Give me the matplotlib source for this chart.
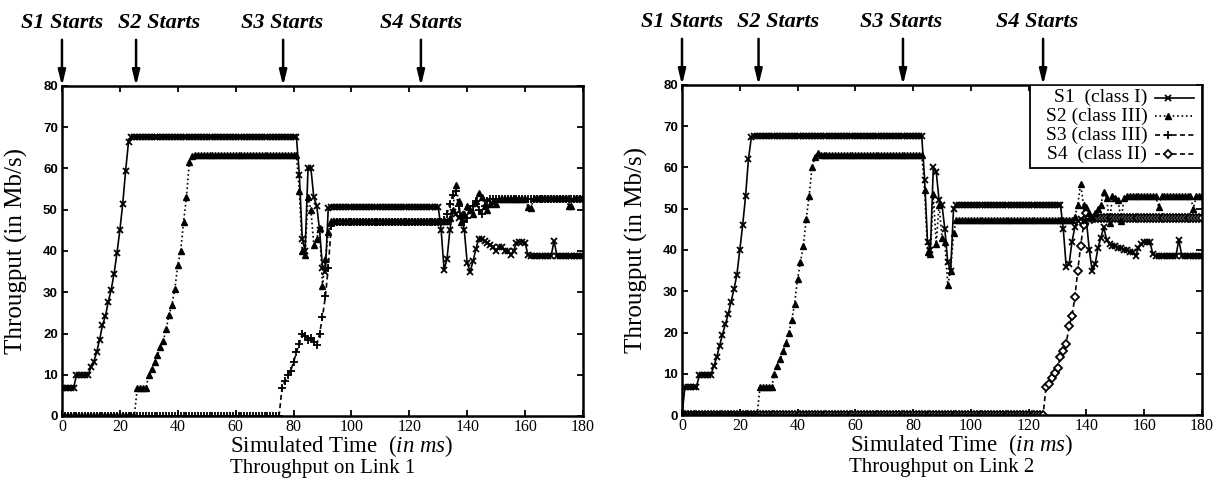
import matplotlib
matplotlib.use('Agg')
import matplotlib.pyplot as plt
from matplotlib.patches import Rectangle

plt.rcParams['font.family'] = 'Liberation Serif'
plt.rcParams['mathtext.fontset'] = 'custom'
plt.rcParams['mathtext.rm'] = 'Liberation Serif'
plt.rcParams['mathtext.it'] = 'Liberation Serif:italic'

# simulated time, one sample per ms
t = list(range(181))

# ---- Link 1 : S1, S2, S3 ----
s1_link1 = ([6.7] * 5 + [9.9] * 5
            + [11.8, 13.2, 15.5, 18.5, 22.0, 24.2, 27.7, 30.6, 34.5, 39.5, 45.0, 51.5, 59.5, 66.5]
            + [67.6] * 58
            + [58.5, 43.0, 40.0, 60.0, 60.0, 53.0, 51.0, 45.0, 36.0, 35.0, 50.5, 50.7]
            + [50.7] * 37
            + [45.0, 35.5, 38.0, 45.0, 49.5, 49.0, 48.0, 49.0, 45.0, 37.0, 35.0, 37.5, 40.5, 43.0, 43.0,
               42.5, 42.0, 41.5, 41.0, 40.0, 41.0, 41.0, 40.0, 40.0, 39.0, 40.0, 42.0, 42.2, 42.2, 42.0, 39.0]
            + [38.8] * 8 + [42.5] + [38.8] * 10)

s2_link1 = ([0.0] * 26 + [6.7] * 4
            + [9.9, 11.5, 13.0, 14.7, 16.8, 18.3, 21.0, 24.5, 27.0, 30.8, 36.5, 40.0, 47.0, 53.0, 61.5, 63.0]
            + [63.2] * 36
            + [54.5, 40.0, 39.0, 53.0, 50.0, 41.5, 43.0, 45.5, 31.5, 38.0, 44.5, 47.2]
            + [47.2] * 40
            + [48.0, 50.0, 56.0, 52.0, 47.0, 49.0, 51.0, 50.0, 49.0, 52.0, 54.0, 53.0, 51.0, 50.0, 51.5, 52.0, 51.5]
            + [52.5] * 10 + [50.7, 50.5] + [52.8] * 12 + [51.0, 51.0] + [52.8] * 4)

s3_link1 = ([0.0] * 76
            + [6.7, 8.5, 9.9, 11.0, 13.0, 15.5, 17.5, 20.0, 19.5, 18.5, 19.0, 18.0, 17.2, 20.0, 24.0, 29.0, 36.0, 46.0]
            + [47.0] * 38
            + [47.5, 49.0, 51.5, 53.5, 54.5, 51.0, 48.0, 47.0, 48.0, 50.0, 51.0, 52.0, 50.0, 49.0, 51.0, 52.0, 52.5, 52.5]
            + [52.6] * 31)

# ---- Link 2 : S1, S2, S4 ----
s1_link2 = ([0.0] + [6.7] * 5 + [9.8] * 5
            + [11.8, 14.0, 16.8, 19.5, 22.0, 24.5, 27.5, 30.5, 34.0, 40.0, 46.0, 53.0, 62.0, 67.3]
            + [67.6] * 59
            + [57.0, 42.0, 40.0, 60.0, 59.0, 52.0, 51.0, 45.0, 37.0, 35.0, 50.0, 51.0]
            + [51.0] * 36
            + [45.0, 36.0, 36.5, 42.0, 45.5, 47.0, 47.5, 47.0, 47.0, 40.0, 35.0, 36.5, 40.5, 43.0, 45.5, 42.5,
               41.5, 41.0, 41.0, 40.5, 40.5, 40.0, 40.0, 39.5, 39.5, 38.5, 40.5, 41.5, 42.0, 42.0, 42.0, 39.0]
            + [38.6] * 8 + [42.5] + [38.6] * 8)

s2_link2 = ([0.0] * 27 + [6.7] * 5
            + [10.0, 12.0, 13.5, 15.5, 17.5, 20.0, 23.0, 27.0, 33.0, 37.0, 41.0, 47.5, 53.0, 60.0, 62.5, 63.5]
            + [63.0] * 36
            + [54.5, 39.5, 39.0, 53.5, 41.5, 51.0, 43.0, 42.0, 31.5, 35.0, 44.0, 47.3]
            + [47.3] * 40
            + [48.0, 51.0, 56.0, 51.0, 50.5, 49.0, 48.0, 49.0, 50.0, 51.0, 54.0, 52.5, 46.5, 53.0, 52.5, 52.0, 47.0, 52.5]
            + [53.0] * 11 + [50.5] + [53.0] * 11 + [50.0] + [53.0] * 3)

s4_link2 = ([0.0] * 126
            + [6.7, 7.5, 9.0, 10.3, 11.5, 14.0, 15.5, 17.3, 21.5, 24.0, 28.5, 35.0, 41.0, 46.0, 49.0, 48.0, 47.5]
            + [47.8] * 38)

legend_labels = ['S1  (class I)', 'S2 (class III)', 'S3 (class III)', 'S4  (class II)']
start_labels = ['S1 Starts', 'S2 Starts', 'S3 Starts', 'S4 Starts']

styles = {
    'S1': dict(marker='x', ls='-', ms=5, mew=1.3),
    'S2': dict(marker='^', ls=':', ms=5, mew=1.0),
    'S3': dict(marker='+', ls=(0, (3, 2)), ms=6, mew=1.3),
    'S4': dict(marker='D', ls=(0, (3, 2)), ms=3.6, mew=1.3, mfc='white'),
}


def setup(ax, title, arrows, text_x):
    ax.set_xlim(0, 180)
    ax.set_ylim(0, 80)
    ax.set_xticks(range(0, 181, 20))
    ax.set_yticks(range(0, 81, 10))
    ax.tick_params(direction='in', top=True, right=True, length=4, width=1.3)
    ax.tick_params(axis='x', labelsize=11.5, pad=2)
    ax.tick_params(axis='y', labelsize=9.5, pad=3)
    for lbl in ax.get_yticklabels():
        lbl.set_fontfamily('Liberation Sans')
        lbl.set_fontweight('bold')
    for sp in ax.spines.values():
        sp.set_linewidth(1.8)
    ax.set_ylabel('Througput (in Mb/s)', fontsize=18)
    ax.yaxis.set_label_coords(-0.066, 0.5)
    ax.set_xlabel(r'Simulated Time  $\mathit{(in\ ms)}$', fontsize=16.5)
    ax.xaxis.set_label_coords(0.537, -0.052)
    ax.text(0.5, -0.158, title, transform=ax.transAxes, ha='center', va='center', fontsize=15)
    for ax_x, tx, lab in zip(arrows, text_x, start_labels):
        ax.annotate('', xy=(ax_x, 80), xytext=(ax_x, 91.2),
                    arrowprops=dict(arrowstyle='-|>,head_width=0.22,head_length=0.9',
                                    color='black', lw=1.8, shrinkA=0, shrinkB=0),
                    annotation_clip=False)
        ax.text(tx, 95.2, lab, ha='center', va='center', fontsize=16, style='italic',
                fontweight='bold', clip_on=False)


fig = plt.figure(figsize=(12.22, 5), dpi=100)
ax1 = fig.add_axes([0.0507, 0.168, 0.4264, 0.66])
ax2 = fig.add_axes([0.5581, 0.170, 0.4255, 0.66])

ax1.plot(t, s3_link1, color='black', lw=1.2, **styles['S3'])
ax1.plot(t, s2_link1, color='black', lw=1.2, **styles['S2'])
ax1.plot(t, s1_link1, color='black', lw=1.2, **styles['S1'])
setup(ax1, 'Throughput on Link 1', [0, 25.6, 76.4, 124.0], [0, 33.4, 76.0, 124.0])

ax2.plot(t, s4_link2, color='black', lw=1.2, **styles['S4'])
ax2.plot(t, s2_link2, color='black', lw=1.2, **styles['S2'])
ax2.plot(t, s1_link2, color='black', lw=1.2, **styles['S1'])
setup(ax2, 'Throughput on Link 2', [0, 26.5, 76.5, 125.0], [0, 33.2, 76.0, 123.0])

# legend box drawn in the upper right of link 2
ax2.add_patch(Rectangle((0.669, 0.748), 0.331, 0.252, transform=ax2.transAxes,
                        facecolor='white', edgecolor='black', lw=1.3, zorder=5))
rows = [0.962, 0.905, 0.848, 0.79]
for key, lab, ry in zip(['S1', 'S2', 'S3', 'S4'], legend_labels, rows):
    ax2.text(0.895, ry, lab, transform=ax2.transAxes, ha='right', va='center',
             fontsize=14, zorder=6)
    st = dict(styles[key])
    ax2.plot([0.91, 0.985], [ry, ry], transform=ax2.transAxes, color='black', lw=1.2,
             ls=st.pop('ls'), marker=None, zorder=6, clip_on=False)
    ax2.plot([0.935], [ry], transform=ax2.transAxes, color='black', ls='none',
             zorder=7, clip_on=False, **st)

fig.savefig('out.png', dpi=100)
